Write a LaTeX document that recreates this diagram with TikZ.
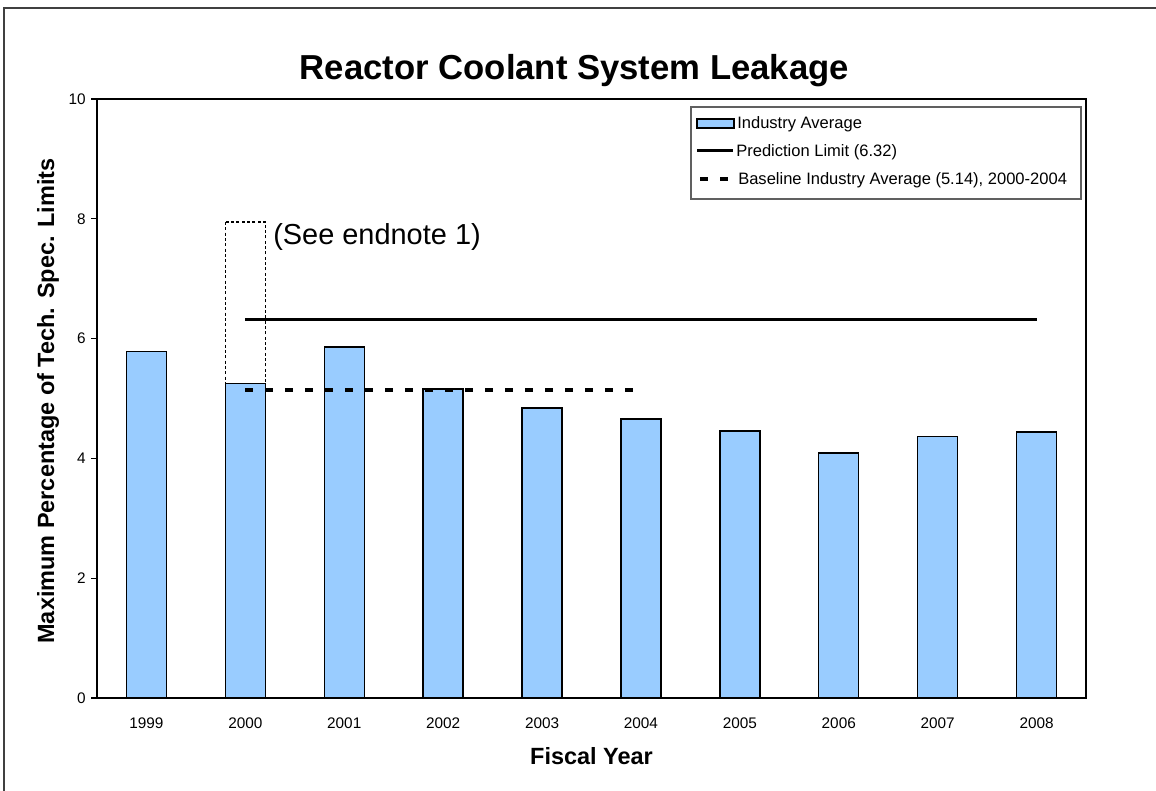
\documentclass[tikz,border=0pt]{standalone}
\usepackage{fontspec}
\setmainfont{Liberation Sans}
\definecolor{barblue}{HTML}{99CCFF}
\definecolor{framegray}{HTML}{404040}
\definecolor{leggray}{HTML}{606060}
\begin{document}
\begin{tikzpicture}[x=0.75pt,y=-0.75pt,
  bar/.style={draw=black,line width=1pt,fill=barblue},
  ticklab/.style={font=\fontsize{11.5}{13}\selectfont,inner sep=0pt},
  axtitle/.style={font=\fontsize{17.6}{20}\selectfont\bfseries,inner sep=0pt},
  legtext/.style={font=\fontsize{12.4}{14}\selectfont,inner sep=0pt,anchor=base west},
  predline/.style={line width=2.25pt},
  baseavg/.style={line width=2.5pt,dash pattern=on 6pt off 9pt},
  dotbox/.style={line width=1.2pt,dash pattern=on 2.2pt off 1.8pt}
]
\useasboundingbox (0,0) rectangle (1156,791);
\clip (0,0) rectangle (1156,791);
\fill[white] (0,0) rectangle (1156,791);
% outer chart frame (open to right and bottom)
\draw[framegray,line width=1.5pt] (4,830) -- (4,8) -- (1190,8);
% title
\node[font=\fontsize{26}{30}\selectfont\bfseries,anchor=base,inner sep=0pt] (title) at (574.5,80) {Reactor Coolant System Leakage};
% bars
\foreach \yr/\v [count=\i from 0] in {1999/5.78,2000/5.25,2001/5.86,2002/5.16,2003/4.84,2004/4.66,2005/4.46,2006/4.09,2007/4.37,2008/4.44}{
  \pgfmathsetmacro\c{97+98.9*(\i+0.5)}
  \draw[bar] (\c-20,698) rectangle (\c+20,{698-59.9*\v});
  \node[ticklab,anchor=base] (x\yr) at (\c,728) {\yr};
}
% plot area box
\draw[line width=1.1pt] (97,99) rectangle (1086,698);
% y ticks
\foreach \v in {0,2,4,6,8,10}{
  \draw[line width=0.8pt] (91,{698-59.9*\v}) -- (97,{698-59.9*\v});
  \node[ticklab,anchor=east] (y\v) at (86,{698-59.9*\v}) {\v};
}
% endnote box
\coordinate (n1) at (225.5,222);
\coordinate (n2) at (265.5,{698-59.9*5.25});
\draw[dotbox] (n1) rectangle (n2);
\node[font=\fontsize{21.7}{24}\selectfont,anchor=base west,inner sep=0pt] (note) at (273,245) {(See endnote 1)};
% prediction limit
\coordinate (p1) at (245.3,{698-59.9*6.32});
\coordinate (p2) at (1036.6,{698-59.9*6.32});
\draw[predline] (p1) -- (p2);
% baseline average
\coordinate (b1) at (245.3,{698-59.9*5.14});
\coordinate (b2) at (641,{698-59.9*5.14});
\draw[baseavg] (b1) -- (b2);
% axis titles
\node[axtitle,rotate=90,anchor=base] (ylab) at (54,401) {Maximum Percentage of Tech. Spec. Limits};
\node[axtitle,anchor=base] (xlab) at (591.5,764) {Fiscal Year};
% legend
\draw[leggray,line width=1pt,fill=white] (691,107) rectangle (1081,199);
\draw[bar] (697,119) rectangle (734,128);
\node[legtext] (l1) at (737,129) {Industry Average};
\coordinate (lp1) at (697,151);
\coordinate (lp2) at (733,151);
\draw[predline] (lp1) -- (lp2);
\node[legtext] (l2) at (736,157) {Prediction Limit (6.32)};
\coordinate (lb1) at (700,179);
\coordinate (lb2) at (731,179);
\draw[baseavg] (lb1) -- (lb2);
\node[legtext] (l3) at (738,185) {Baseline Industry Average (5.14), 2000-2004};
\end{tikzpicture}
\end{document}
